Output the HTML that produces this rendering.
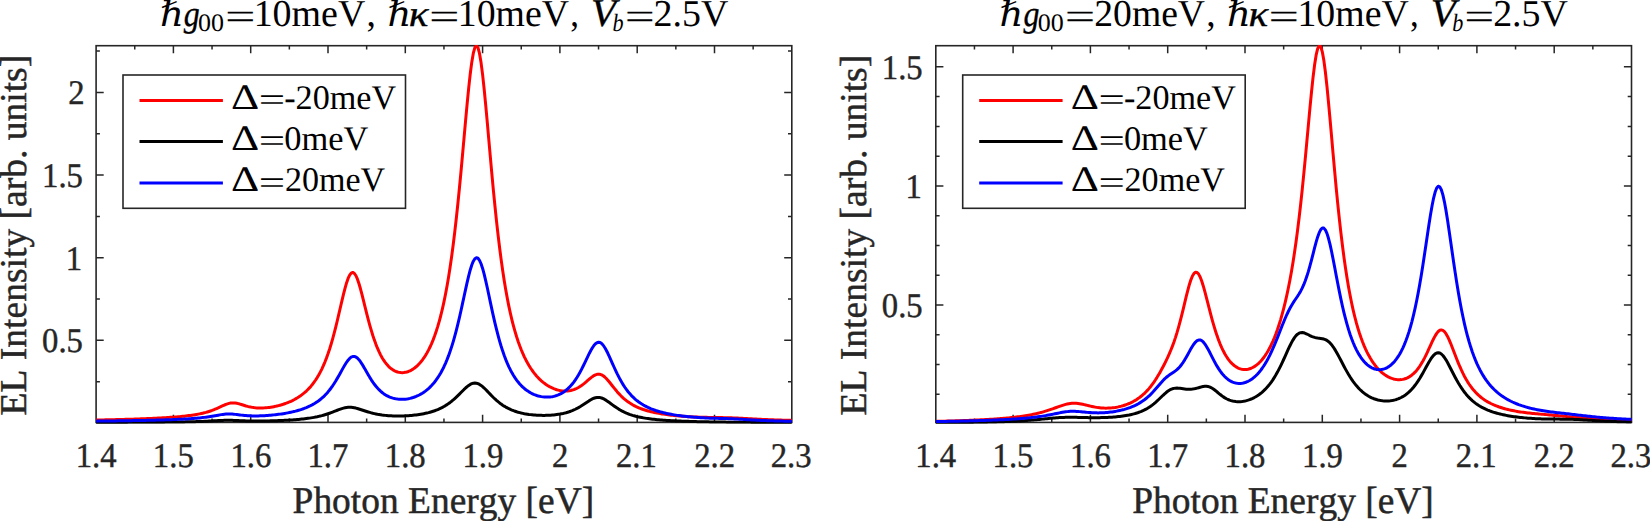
<!DOCTYPE html>
<html><head><meta charset="utf-8"><title>EL Intensity</title>
<style>html,body{margin:0;padding:0;background:#fff}svg{display:block;font-family:"Liberation Serif","DejaVu Serif",serif;font-kerning:none;text-rendering:geometricPrecision}text{white-space:pre}</style>
</head><body>
<svg width="1650" height="521" viewBox="0 0 1650 521">
<rect width="1650" height="521" fill="#fff"/>
<clipPath id="c0"><rect x="95.35" y="44.95" width="697.2" height="378.7"/></clipPath>
<path d="M134.75,422.4v-3.8M134.75,45.7v3.8M173.4,422.4v-7.6M173.4,45.7v7.6M212.05,422.4v-3.8M212.05,45.7v3.8M250.7,422.4v-7.6M250.7,45.7v7.6M289.35,422.4v-3.8M289.35,45.7v3.8M328,422.4v-7.6M328,45.7v7.6M366.65,422.4v-3.8M366.65,45.7v3.8M405.3,422.4v-7.6M405.3,45.7v7.6M443.95,422.4v-3.8M443.95,45.7v3.8M482.6,422.4v-7.6M482.6,45.7v7.6M521.25,422.4v-3.8M521.25,45.7v3.8M559.9,422.4v-7.6M559.9,45.7v7.6M598.55,422.4v-3.8M598.55,45.7v3.8M637.2,422.4v-7.6M637.2,45.7v7.6M675.85,422.4v-3.8M675.85,45.7v3.8M714.5,422.4v-7.6M714.5,45.7v7.6M753.15,422.4v-3.8M753.15,45.7v3.8M96.1,340.35h7.6M791.8,340.35h-7.6M96.1,257.7h7.6M791.8,257.7h-7.6M96.1,175.05h7.6M791.8,175.05h-7.6M96.1,92.4h7.6M791.8,92.4h-7.6M96.1,381.68h3.8M791.8,381.68h-3.8M96.1,299.02h3.8M791.8,299.02h-3.8M96.1,216.38h3.8M791.8,216.38h-3.8M96.1,133.72h3.8M791.8,133.72h-3.8M96.1,51.07h3.8M791.8,51.07h-3.8" stroke="#262626" stroke-width="1.5" fill="none"/>
<rect x="96.1" y="45.7" width="695.7" height="376.7" stroke="#262626" stroke-width="1.6" fill="none"/>
<g clip-path="url(#c0)" fill="none" stroke-width="3" stroke-linejoin="round">
<path d="M96.1,420.06 L97.65,420.03 L99.19,420 L100.74,419.97 L102.28,419.94 L103.83,419.9 L105.38,419.87 L106.92,419.84 L108.47,419.8 L110.01,419.77 L111.56,419.73 L113.11,419.69 L114.65,419.65 L116.2,419.62 L117.74,419.58 L119.29,419.54 L120.84,419.49 L122.38,419.45 L123.93,419.41 L125.47,419.37 L127.02,419.32 L128.57,419.27 L130.11,419.23 L131.66,419.18 L133.2,419.13 L134.75,419.08 L136.3,419.02 L137.84,418.97 L139.39,418.92 L140.93,418.86 L142.48,418.8 L144.03,418.74 L145.57,418.68 L147.12,418.62 L148.66,418.55 L150.21,418.48 L151.76,418.41 L153.3,418.34 L154.85,418.27 L156.39,418.19 L157.94,418.11 L159.49,418.03 L161.03,417.95 L162.58,417.86 L164.12,417.77 L165.67,417.67 L167.22,417.57 L168.76,417.47 L170.31,417.36 L171.85,417.25 L173.4,417.14 L174.95,417.02 L176.49,416.89 L178.04,416.76 L179.58,416.62 L181.13,416.47 L182.68,416.31 L184.22,416.15 L185.77,415.98 L187.31,415.8 L188.86,415.6 L190.41,415.4 L191.95,415.18 L193.5,414.95 L195.04,414.7 L196.59,414.44 L198.14,414.15 L199.68,413.85 L201.23,413.52 L202.77,413.17 L204.32,412.79 L205.87,412.39 L207.41,411.95 L208.96,411.47 L210.5,410.96 L212.05,410.42 L213.6,409.83 L215.14,409.21 L216.69,408.55 L218.23,407.86 L219.78,407.14 L221.33,406.42 L222.87,405.7 L224.42,405.01 L225.96,404.38 L227.51,403.82 L229.06,403.38 L230.6,403.06 L232.15,402.9 L233.69,402.88 L235.24,403.01 L236.79,403.27 L238.33,403.63 L239.88,404.06 L241.42,404.54 L242.97,405.03 L244.52,405.51 L246.06,405.97 L247.61,406.39 L249.15,406.76 L250.7,407.09 L252.25,407.36 L253.79,407.58 L255.34,407.76 L256.88,407.88 L258.43,407.96 L259.98,407.99 L261.52,407.99 L263.07,407.94 L264.61,407.86 L266.16,407.74 L267.71,407.59 L269.25,407.4 L270.8,407.18 L272.34,406.93 L273.89,406.65 L275.44,406.34 L276.98,405.99 L278.53,405.61 L280.07,405.2 L281.62,404.76 L283.17,404.28 L284.71,403.76 L286.26,403.21 L287.8,402.61 L289.35,401.97 L290.9,401.28 L292.44,400.55 L293.99,399.76 L295.53,398.92 L297.08,398.02 L298.63,397.05 L300.17,396.01 L301.72,394.89 L303.26,393.69 L304.81,392.4 L306.36,391.01 L307.9,389.51 L309.45,387.89 L310.99,386.14 L312.54,384.25 L314.09,382.2 L315.63,379.99 L317.18,377.58 L318.72,374.97 L320.27,372.14 L321.82,369.06 L323.36,365.71 L324.91,362.07 L326.45,358.13 L328,353.85 L329.55,349.22 L331.09,344.23 L332.64,338.88 L334.18,333.16 L335.73,327.11 L337.28,320.76 L338.82,314.19 L340.37,307.5 L341.91,300.84 L343.46,294.38 L345.01,288.33 L346.55,282.94 L348.1,278.46 L349.64,275.1 L351.19,273.05 L352.74,272.44 L354.28,273.27 L355.83,275.5 L357.37,278.97 L358.92,283.48 L360.47,288.78 L362.01,294.63 L363.56,300.79 L365.1,307.06 L366.65,313.27 L368.2,319.3 L369.74,325.04 L371.29,330.45 L372.83,335.47 L374.38,340.11 L375.93,344.36 L377.47,348.22 L379.02,351.71 L380.56,354.86 L382.11,357.68 L383.66,360.18 L385.2,362.41 L386.75,364.36 L388.29,366.07 L389.84,367.55 L391.39,368.82 L392.93,369.88 L394.48,370.76 L396.02,371.46 L397.57,371.99 L399.12,372.36 L400.66,372.58 L402.21,372.65 L403.75,372.57 L405.3,372.35 L406.85,371.99 L408.39,371.48 L409.94,370.84 L411.48,370.05 L413.03,369.11 L414.58,368.03 L416.12,366.79 L417.67,365.38 L419.21,363.8 L420.76,362.05 L422.31,360.1 L423.85,357.95 L425.4,355.58 L426.94,352.98 L428.49,350.13 L430.04,347.01 L431.58,343.59 L433.13,339.85 L434.67,335.76 L436.22,331.29 L437.77,326.41 L439.31,321.07 L440.86,315.24 L442.4,308.86 L443.95,301.89 L445.5,294.27 L447.04,285.95 L448.59,276.88 L450.13,266.98 L451.68,256.22 L453.23,244.53 L454.77,231.9 L456.32,218.29 L457.86,203.73 L459.41,188.26 L460.96,172.01 L462.5,155.13 L464.05,137.9 L465.59,120.68 L467.14,103.91 L468.69,88.14 L470.23,74.01 L471.78,62.14 L473.32,53.16 L474.87,47.57 L476.42,45.7 L477.96,47.7 L479.51,53.44 L481.05,62.58 L482.6,74.63 L484.15,88.97 L485.69,104.95 L487.24,121.96 L488.78,139.44 L490.33,156.93 L491.88,174.05 L493.42,190.56 L494.97,206.27 L496.51,221.07 L498.06,234.91 L499.61,247.77 L501.15,259.67 L502.7,270.64 L504.24,280.74 L505.79,290.02 L507.34,298.54 L508.88,306.35 L510.43,313.52 L511.97,320.1 L513.52,326.14 L515.07,331.68 L516.61,336.78 L518.16,341.47 L519.7,345.79 L521.25,349.76 L522.8,353.43 L524.34,356.81 L525.89,359.94 L527.43,362.83 L528.98,365.5 L530.53,367.97 L532.07,370.26 L533.62,372.38 L535.16,374.34 L536.71,376.15 L538.26,377.82 L539.8,379.37 L541.35,380.81 L542.89,382.12 L544.44,383.34 L545.99,384.45 L547.53,385.46 L549.08,386.39 L550.62,387.22 L552.17,387.97 L553.72,388.64 L555.26,389.22 L556.81,389.72 L558.35,390.15 L559.9,390.49 L561.45,390.74 L562.99,390.92 L564.54,391.01 L566.08,391.01 L567.63,390.92 L569.18,390.74 L570.72,390.46 L572.27,390.07 L573.81,389.58 L575.36,388.99 L576.91,388.28 L578.45,387.46 L580,386.52 L581.54,385.48 L583.09,384.33 L584.64,383.1 L586.18,381.8 L587.73,380.46 L589.27,379.12 L590.82,377.82 L592.37,376.63 L593.91,375.61 L595.46,374.81 L597,374.3 L598.55,374.12 L600.1,374.3 L601.64,374.86 L603.19,375.77 L604.73,377 L606.28,378.5 L607.83,380.2 L609.37,382.05 L610.92,383.99 L612.46,385.95 L614.01,387.91 L615.56,389.81 L617.1,391.65 L618.65,393.39 L620.19,395.04 L621.74,396.59 L623.29,398.03 L624.83,399.37 L626.38,400.62 L627.92,401.77 L629.47,402.84 L631.02,403.83 L632.56,404.74 L634.11,405.59 L635.65,406.37 L637.2,407.1 L638.75,407.77 L640.29,408.4 L641.84,408.98 L643.38,409.53 L644.93,410.03 L646.48,410.51 L648.02,410.95 L649.57,411.36 L651.11,411.75 L652.66,412.12 L654.21,412.46 L655.75,412.78 L657.3,413.09 L658.84,413.37 L660.39,413.64 L661.94,413.9 L663.48,414.14 L665.03,414.37 L666.57,414.58 L668.12,414.79 L669.67,414.98 L671.21,415.16 L672.76,415.34 L674.3,415.5 L675.85,415.66 L677.4,415.8 L678.94,415.94 L680.49,416.08 L682.03,416.2 L683.58,416.32 L685.13,416.43 L686.67,416.53 L688.22,416.63 L689.76,416.72 L691.31,416.8 L692.86,416.88 L694.4,416.96 L695.95,417.02 L697.49,417.09 L699.04,417.14 L700.59,417.2 L702.13,417.24 L703.68,417.29 L705.22,417.32 L706.77,417.36 L708.32,417.39 L709.86,417.42 L711.41,417.44 L712.95,417.47 L714.5,417.49 L716.05,417.51 L717.59,417.54 L719.14,417.56 L720.68,417.58 L722.23,417.61 L723.78,417.64 L725.32,417.68 L726.87,417.72 L728.41,417.76 L729.96,417.81 L731.51,417.86 L733.05,417.92 L734.6,417.99 L736.14,418.05 L737.69,418.12 L739.24,418.2 L740.78,418.28 L742.33,418.36 L743.87,418.44 L745.42,418.52 L746.97,418.6 L748.51,418.69 L750.06,418.77 L751.6,418.85 L753.15,418.93 L754.7,419.01 L756.24,419.09 L757.79,419.16 L759.33,419.24 L760.88,419.31 L762.43,419.38 L763.97,419.45 L765.52,419.52 L767.06,419.58 L768.61,419.65 L770.16,419.71 L771.7,419.77 L773.25,419.83 L774.79,419.88 L776.34,419.94 L777.89,419.99 L779.43,420.04 L780.98,420.09 L782.52,420.14 L784.07,420.18 L785.62,420.23 L787.16,420.27 L788.71,420.31 L790.25,420.36 L791.8,420.4" stroke="#ff0000"/>
<path d="M96.1,422.49 L97.65,422.49 L99.19,422.48 L100.74,422.48 L102.28,422.47 L103.83,422.47 L105.38,422.46 L106.92,422.46 L108.47,422.45 L110.01,422.45 L111.56,422.44 L113.11,422.44 L114.65,422.43 L116.2,422.42 L117.74,422.42 L119.29,422.41 L120.84,422.41 L122.38,422.4 L123.93,422.39 L125.47,422.39 L127.02,422.38 L128.57,422.37 L130.11,422.36 L131.66,422.36 L133.2,422.35 L134.75,422.34 L136.3,422.33 L137.84,422.32 L139.39,422.32 L140.93,422.31 L142.48,422.3 L144.03,422.29 L145.57,422.28 L147.12,422.27 L148.66,422.26 L150.21,422.25 L151.76,422.24 L153.3,422.23 L154.85,422.21 L156.39,422.2 L157.94,422.19 L159.49,422.18 L161.03,422.16 L162.58,422.15 L164.12,422.14 L165.67,422.12 L167.22,422.11 L168.76,422.09 L170.31,422.07 L171.85,422.05 L173.4,422.04 L174.95,422.02 L176.49,422 L178.04,421.97 L179.58,421.95 L181.13,421.93 L182.68,421.9 L184.22,421.88 L185.77,421.85 L187.31,421.82 L188.86,421.79 L190.41,421.75 L191.95,421.72 L193.5,421.68 L195.04,421.64 L196.59,421.6 L198.14,421.55 L199.68,421.5 L201.23,421.45 L202.77,421.39 L204.32,421.33 L205.87,421.26 L207.41,421.19 L208.96,421.12 L210.5,421.04 L212.05,420.96 L213.6,420.87 L215.14,420.78 L216.69,420.7 L218.23,420.61 L219.78,420.53 L221.33,420.45 L222.87,420.39 L224.42,420.34 L225.96,420.31 L227.51,420.3 L229.06,420.3 L230.6,420.33 L232.15,420.37 L233.69,420.42 L235.24,420.49 L236.79,420.56 L238.33,420.62 L239.88,420.69 L241.42,420.76 L242.97,420.82 L244.52,420.87 L246.06,420.91 L247.61,420.95 L249.15,420.98 L250.7,421.01 L252.25,421.03 L253.79,421.04 L255.34,421.04 L256.88,421.05 L258.43,421.04 L259.98,421.03 L261.52,421.02 L263.07,421 L264.61,420.98 L266.16,420.95 L267.71,420.92 L269.25,420.89 L270.8,420.85 L272.34,420.81 L273.89,420.77 L275.44,420.72 L276.98,420.67 L278.53,420.61 L280.07,420.55 L281.62,420.48 L283.17,420.41 L284.71,420.34 L286.26,420.26 L287.8,420.17 L289.35,420.08 L290.9,419.99 L292.44,419.88 L293.99,419.77 L295.53,419.65 L297.08,419.53 L298.63,419.39 L300.17,419.25 L301.72,419.09 L303.26,418.93 L304.81,418.75 L306.36,418.56 L307.9,418.35 L309.45,418.13 L310.99,417.89 L312.54,417.64 L314.09,417.36 L315.63,417.06 L317.18,416.75 L318.72,416.4 L320.27,416.03 L321.82,415.64 L323.36,415.21 L324.91,414.76 L326.45,414.28 L328,413.76 L329.55,413.22 L331.09,412.66 L332.64,412.07 L334.18,411.46 L335.73,410.85 L337.28,410.25 L338.82,409.66 L340.37,409.1 L341.91,408.58 L343.46,408.14 L345.01,407.77 L346.55,407.49 L348.1,407.33 L349.64,407.27 L351.19,407.32 L352.74,407.48 L354.28,407.74 L355.83,408.08 L357.37,408.49 L358.92,408.95 L360.47,409.45 L362.01,409.96 L363.56,410.48 L365.1,410.99 L366.65,411.49 L368.2,411.97 L369.74,412.42 L371.29,412.85 L372.83,413.25 L374.38,413.61 L375.93,413.95 L377.47,414.26 L379.02,414.53 L380.56,414.78 L382.11,415.01 L383.66,415.2 L385.2,415.37 L386.75,415.52 L388.29,415.65 L389.84,415.76 L391.39,415.85 L392.93,415.91 L394.48,415.96 L396.02,416 L397.57,416.01 L399.12,416.01 L400.66,415.99 L402.21,415.96 L403.75,415.91 L405.3,415.84 L406.85,415.76 L408.39,415.66 L409.94,415.55 L411.48,415.42 L413.03,415.27 L414.58,415.1 L416.12,414.91 L417.67,414.71 L419.21,414.48 L420.76,414.23 L422.31,413.96 L423.85,413.66 L425.4,413.34 L426.94,412.99 L428.49,412.61 L430.04,412.19 L431.58,411.74 L433.13,411.25 L434.67,410.73 L436.22,410.15 L437.77,409.54 L439.31,408.86 L440.86,408.14 L442.4,407.36 L443.95,406.51 L445.5,405.6 L447.04,404.62 L448.59,403.56 L450.13,402.43 L451.68,401.22 L453.23,399.93 L454.77,398.57 L456.32,397.14 L457.86,395.66 L459.41,394.12 L460.96,392.56 L462.5,391 L464.05,389.46 L465.59,388 L467.14,386.64 L468.69,385.44 L470.23,384.44 L471.78,383.69 L473.32,383.22 L474.87,383.05 L476.42,383.2 L477.96,383.65 L479.51,384.4 L481.05,385.4 L482.6,386.62 L484.15,388.01 L485.69,389.51 L487.24,391.1 L488.78,392.72 L490.33,394.34 L491.88,395.93 L493.42,397.48 L494.97,398.96 L496.51,400.36 L498.06,401.69 L499.61,402.93 L501.15,404.09 L502.7,405.17 L504.24,406.16 L505.79,407.08 L507.34,407.93 L508.88,408.71 L510.43,409.43 L511.97,410.09 L513.52,410.69 L515.07,411.24 L516.61,411.75 L518.16,412.21 L519.7,412.62 L521.25,413.01 L522.8,413.35 L524.34,413.67 L525.89,413.95 L527.43,414.2 L528.98,414.43 L530.53,414.62 L532.07,414.8 L533.62,414.95 L535.16,415.08 L536.71,415.18 L538.26,415.27 L539.8,415.33 L541.35,415.37 L542.89,415.39 L544.44,415.39 L545.99,415.37 L547.53,415.32 L549.08,415.26 L550.62,415.17 L552.17,415.06 L553.72,414.92 L555.26,414.75 L556.81,414.56 L558.35,414.34 L559.9,414.09 L561.45,413.8 L562.99,413.48 L564.54,413.11 L566.08,412.71 L567.63,412.26 L569.18,411.76 L570.72,411.22 L572.27,410.61 L573.81,409.95 L575.36,409.24 L576.91,408.46 L578.45,407.62 L580,406.72 L581.54,405.77 L583.09,404.77 L584.64,403.74 L586.18,402.69 L587.73,401.65 L589.27,400.64 L590.82,399.71 L592.37,398.89 L593.91,398.21 L595.46,397.72 L597,397.44 L598.55,397.39 L600.1,397.58 L601.64,398 L603.19,398.63 L604.73,399.44 L606.28,400.39 L607.83,401.44 L609.37,402.56 L610.92,403.7 L612.46,404.85 L614.01,405.98 L615.56,407.07 L617.1,408.11 L618.65,409.1 L620.19,410.02 L621.74,410.88 L623.29,411.68 L624.83,412.42 L626.38,413.1 L627.92,413.73 L629.47,414.31 L631.02,414.84 L632.56,415.34 L634.11,415.79 L635.65,416.21 L637.2,416.59 L638.75,416.95 L640.29,417.28 L641.84,417.58 L643.38,417.86 L644.93,418.12 L646.48,418.36 L648.02,418.59 L649.57,418.8 L651.11,418.99 L652.66,419.18 L654.21,419.35 L655.75,419.51 L657.3,419.66 L658.84,419.8 L660.39,419.93 L661.94,420.05 L663.48,420.17 L665.03,420.28 L666.57,420.38 L668.12,420.48 L669.67,420.57 L671.21,420.66 L672.76,420.74 L674.3,420.82 L675.85,420.89 L677.4,420.96 L678.94,421.03 L680.49,421.09 L682.03,421.16 L683.58,421.21 L685.13,421.27 L686.67,421.32 L688.22,421.37 L689.76,421.42 L691.31,421.47 L692.86,421.51 L694.4,421.55 L695.95,421.59 L697.49,421.63 L699.04,421.67 L700.59,421.7 L702.13,421.74 L703.68,421.77 L705.22,421.8 L706.77,421.83 L708.32,421.86 L709.86,421.89 L711.41,421.92 L712.95,421.94 L714.5,421.97 L716.05,421.99 L717.59,422.02 L719.14,422.04 L720.68,422.06 L722.23,422.08 L723.78,422.1 L725.32,422.12 L726.87,422.14 L728.41,422.16 L729.96,422.18 L731.51,422.2 L733.05,422.21 L734.6,422.23 L736.14,422.25 L737.69,422.26 L739.24,422.28 L740.78,422.29 L742.33,422.31 L743.87,422.32 L745.42,422.33 L746.97,422.35 L748.51,422.36 L750.06,422.37 L751.6,422.38 L753.15,422.4 L754.7,422.41 L756.24,422.42 L757.79,422.43 L759.33,422.44 L760.88,422.45 L762.43,422.46 L763.97,422.47 L765.52,422.48 L767.06,422.49 L768.61,422.5 L770.16,422.51 L771.7,422.51 L773.25,422.52 L774.79,422.53 L776.34,422.54 L777.89,422.55 L779.43,422.55 L780.98,422.56 L782.52,422.57 L784.07,422.58 L785.62,422.58 L787.16,422.59 L788.71,422.6 L790.25,422.6 L791.8,422.61" stroke="#000000"/>
<path d="M96.1,421.13 L97.65,421.12 L99.19,421.1 L100.74,421.08 L102.28,421.06 L103.83,421.05 L105.38,421.03 L106.92,421.01 L108.47,420.99 L110.01,420.97 L111.56,420.95 L113.11,420.93 L114.65,420.91 L116.2,420.89 L117.74,420.87 L119.29,420.84 L120.84,420.82 L122.38,420.8 L123.93,420.77 L125.47,420.75 L127.02,420.73 L128.57,420.7 L130.11,420.68 L131.66,420.65 L133.2,420.62 L134.75,420.59 L136.3,420.57 L137.84,420.54 L139.39,420.51 L140.93,420.48 L142.48,420.45 L144.03,420.41 L145.57,420.38 L147.12,420.35 L148.66,420.31 L150.21,420.28 L151.76,420.24 L153.3,420.2 L154.85,420.16 L156.39,420.12 L157.94,420.08 L159.49,420.04 L161.03,419.99 L162.58,419.95 L164.12,419.9 L165.67,419.85 L167.22,419.8 L168.76,419.74 L170.31,419.69 L171.85,419.63 L173.4,419.57 L174.95,419.51 L176.49,419.44 L178.04,419.37 L179.58,419.3 L181.13,419.23 L182.68,419.15 L184.22,419.06 L185.77,418.97 L187.31,418.88 L188.86,418.78 L190.41,418.68 L191.95,418.57 L193.5,418.45 L195.04,418.33 L196.59,418.19 L198.14,418.05 L199.68,417.9 L201.23,417.74 L202.77,417.56 L204.32,417.38 L205.87,417.18 L207.41,416.96 L208.96,416.74 L210.5,416.5 L212.05,416.24 L213.6,415.98 L215.14,415.71 L216.69,415.43 L218.23,415.15 L219.78,414.88 L221.33,414.63 L222.87,414.4 L224.42,414.21 L225.96,414.07 L227.51,413.99 L229.06,413.96 L230.6,413.99 L232.15,414.08 L233.69,414.21 L235.24,414.37 L236.79,414.56 L238.33,414.75 L239.88,414.95 L241.42,415.13 L242.97,415.3 L244.52,415.46 L246.06,415.59 L247.61,415.7 L249.15,415.78 L250.7,415.85 L252.25,415.9 L253.79,415.92 L255.34,415.93 L256.88,415.92 L258.43,415.89 L259.98,415.85 L261.52,415.79 L263.07,415.72 L264.61,415.64 L266.16,415.54 L267.71,415.43 L269.25,415.31 L270.8,415.18 L272.34,415.03 L273.89,414.88 L275.44,414.71 L276.98,414.52 L278.53,414.33 L280.07,414.12 L281.62,413.9 L283.17,413.66 L284.71,413.41 L286.26,413.14 L287.8,412.86 L289.35,412.55 L290.9,412.23 L292.44,411.89 L293.99,411.52 L295.53,411.14 L297.08,410.72 L298.63,410.28 L300.17,409.81 L301.72,409.31 L303.26,408.78 L304.81,408.2 L306.36,407.59 L307.9,406.93 L309.45,406.23 L310.99,405.47 L312.54,404.65 L314.09,403.77 L315.63,402.82 L317.18,401.8 L318.72,400.7 L320.27,399.51 L321.82,398.22 L323.36,396.82 L324.91,395.31 L326.45,393.68 L328,391.92 L329.55,390.02 L331.09,387.98 L332.64,385.8 L334.18,383.46 L335.73,380.99 L337.28,378.39 L338.82,375.69 L340.37,372.92 L341.91,370.12 L343.46,367.36 L345.01,364.72 L346.55,362.28 L348.1,360.15 L349.64,358.42 L351.19,357.18 L352.74,356.5 L354.28,356.43 L355.83,356.96 L357.37,358.06 L358.92,359.67 L360.47,361.71 L362.01,364.06 L363.56,366.63 L365.1,369.32 L366.65,372.05 L368.2,374.74 L369.74,377.33 L371.29,379.81 L372.83,382.13 L374.38,384.28 L375.93,386.26 L377.47,388.07 L379.02,389.71 L380.56,391.18 L382.11,392.5 L383.66,393.67 L385.2,394.71 L386.75,395.62 L388.29,396.42 L389.84,397.1 L391.39,397.68 L392.93,398.16 L394.48,398.56 L396.02,398.87 L397.57,399.1 L399.12,399.25 L400.66,399.33 L402.21,399.34 L403.75,399.28 L405.3,399.16 L406.85,398.97 L408.39,398.71 L409.94,398.38 L411.48,397.99 L413.03,397.54 L414.58,397.01 L416.12,396.41 L417.67,395.74 L419.21,394.99 L420.76,394.16 L422.31,393.24 L423.85,392.23 L425.4,391.12 L426.94,389.91 L428.49,388.58 L430.04,387.14 L431.58,385.56 L433.13,383.84 L434.67,381.97 L436.22,379.94 L437.77,377.72 L439.31,375.31 L440.86,372.68 L442.4,369.82 L443.95,366.71 L445.5,363.33 L447.04,359.65 L448.59,355.65 L450.13,351.32 L451.68,346.63 L453.23,341.57 L454.77,336.13 L456.32,330.3 L457.86,324.1 L459.41,317.56 L460.96,310.71 L462.5,303.64 L464.05,296.46 L465.59,289.31 L467.14,282.36 L468.69,275.83 L470.23,269.96 L471.78,265 L473.32,261.17 L474.87,258.69 L476.42,257.69 L477.96,258.23 L479.51,260.29 L481.05,263.75 L482.6,268.45 L484.15,274.14 L485.69,280.59 L487.24,287.54 L488.78,294.77 L490.33,302.08 L491.88,309.32 L493.42,316.34 L494.97,323.08 L496.51,329.47 L498.06,335.48 L499.61,341.09 L501.15,346.3 L502.7,351.11 L504.24,355.55 L505.79,359.64 L507.34,363.38 L508.88,366.82 L510.43,369.96 L511.97,372.84 L513.52,375.47 L515.07,377.88 L516.61,380.07 L518.16,382.08 L519.7,383.91 L521.25,385.57 L522.8,387.09 L524.34,388.46 L525.89,389.71 L527.43,390.84 L528.98,391.86 L530.53,392.77 L532.07,393.58 L533.62,394.3 L535.16,394.94 L536.71,395.48 L538.26,395.95 L539.8,396.33 L541.35,396.64 L542.89,396.87 L544.44,397.03 L545.99,397.11 L547.53,397.11 L549.08,397.04 L550.62,396.89 L552.17,396.66 L553.72,396.35 L555.26,395.94 L556.81,395.45 L558.35,394.86 L559.9,394.17 L561.45,393.37 L562.99,392.45 L564.54,391.42 L566.08,390.24 L567.63,388.93 L569.18,387.46 L570.72,385.84 L572.27,384.04 L573.81,382.06 L575.36,379.9 L576.91,377.54 L578.45,375 L580,372.26 L581.54,369.35 L583.09,366.28 L584.64,363.1 L586.18,359.85 L587.73,356.61 L589.27,353.44 L590.82,350.47 L592.37,347.79 L593.91,345.53 L595.46,343.8 L597,342.69 L598.55,342.27 L600.1,342.57 L601.64,343.58 L603.19,345.25 L604.73,347.49 L606.28,350.21 L607.83,353.28 L609.37,356.6 L610.92,360.04 L612.46,363.54 L614.01,367 L615.56,370.37 L617.1,373.62 L618.65,376.7 L620.19,379.61 L621.74,382.34 L623.29,384.89 L624.83,387.26 L626.38,389.46 L627.92,391.49 L629.47,393.37 L631.02,395.1 L632.56,396.7 L634.11,398.19 L635.65,399.55 L637.2,400.82 L638.75,401.99 L640.29,403.07 L641.84,404.07 L643.38,405.01 L644.93,405.87 L646.48,406.68 L648.02,407.43 L649.57,408.12 L651.11,408.78 L652.66,409.38 L654.21,409.95 L655.75,410.49 L657.3,410.99 L658.84,411.46 L660.39,411.9 L661.94,412.31 L663.48,412.7 L665.03,413.07 L666.57,413.42 L668.12,413.74 L669.67,414.05 L671.21,414.34 L672.76,414.62 L674.3,414.88 L675.85,415.13 L677.4,415.36 L678.94,415.58 L680.49,415.79 L682.03,415.99 L683.58,416.18 L685.13,416.36 L686.67,416.53 L688.22,416.69 L689.76,416.84 L691.31,416.98 L692.86,417.11 L694.4,417.24 L695.95,417.36 L697.49,417.47 L699.04,417.58 L700.59,417.67 L702.13,417.77 L703.68,417.85 L705.22,417.93 L706.77,418 L708.32,418.07 L709.86,418.13 L711.41,418.18 L712.95,418.23 L714.5,418.28 L716.05,418.32 L717.59,418.35 L719.14,418.39 L720.68,418.42 L722.23,418.46 L723.78,418.5 L725.32,418.54 L726.87,418.58 L728.41,418.63 L729.96,418.69 L731.51,418.75 L733.05,418.82 L734.6,418.9 L736.14,418.99 L737.69,419.08 L739.24,419.17 L740.78,419.27 L742.33,419.37 L743.87,419.47 L745.42,419.57 L746.97,419.67 L748.51,419.77 L750.06,419.86 L751.6,419.95 L753.15,420.03 L754.7,420.12 L756.24,420.19 L757.79,420.27 L759.33,420.34 L760.88,420.41 L762.43,420.47 L763.97,420.54 L765.52,420.6 L767.06,420.65 L768.61,420.71 L770.16,420.76 L771.7,420.81 L773.25,420.85 L774.79,420.9 L776.34,420.94 L777.89,420.99 L779.43,421.03 L780.98,421.06 L782.52,421.1 L784.07,421.14 L785.62,421.17 L787.16,421.21 L788.71,421.24 L790.25,421.27 L791.8,421.3" stroke="#0000ff"/>
</g>
<g fill="#262626" stroke="#262626" stroke-width="0.45">
<text transform="translate(75.63,466.6) scale(0.9450,1)" font-size="34.6">1.4</text>
<text transform="translate(152.87,466.6) scale(0.9450,1)" font-size="34.6">1.5</text>
<text transform="translate(230.41,466.6) scale(0.9450,1)" font-size="34.6">1.6</text>
<text transform="translate(307.5,466.6) scale(0.9450,1)" font-size="34.6">1.7</text>
<text transform="translate(384.85,466.6) scale(0.9450,1)" font-size="34.6">1.8</text>
<text transform="translate(462.4,466.6) scale(0.9450,1)" font-size="34.6">1.9</text>
<text transform="translate(551.91,466.6) scale(0.9450,1)" font-size="34.6">2</text>
<text transform="translate(615.93,466.6) scale(0.9450,1)" font-size="34.6">2.1</text>
<text transform="translate(694.15,466.6) scale(0.9450,1)" font-size="34.6">2.2</text>
<text transform="translate(770.68,466.6) scale(0.9450,1)" font-size="34.6">2.3</text>
<text transform="translate(42.11,352.25) scale(0.9450,1)" font-size="34.6">0.5</text>
<text transform="translate(65.72,269.6) scale(0.9450,1)" font-size="34.6">1</text>
<text transform="translate(42.11,186.95) scale(0.9450,1)" font-size="34.6">1.5</text>
<text transform="translate(68.36,104.3) scale(0.9450,1)" font-size="34.6">2</text>
<text transform="translate(292.57,512.65) scale(0.9907,1)" font-size="37.8">Photon Energy [eV]</text>
<text transform="translate(26.2,415.38) rotate(-90) scale(0.9927,1)" font-size="37.8">EL Intensity [arb. units]</text>
</g>
<rect x="123" y="75" width="282.5" height="133.3" fill="#fff" stroke="#262626" stroke-width="1.6"/>
<g class="legend-row">
<path d="M139.5,100.5H222.9" stroke="#ff0000" stroke-width="3"/>
<text><tspan x="231.03" y="108.5" font-size="35.88" textLength="28.22" lengthAdjust="spacingAndGlyphs">Δ</tspan><tspan x="258.87" y="111" font-size="34.5" textLength="26.42" lengthAdjust="spacingAndGlyphs">=</tspan><tspan x="284.23" y="108.5" font-size="34.5" textLength="111.95" lengthAdjust="spacingAndGlyphs">-20meV</tspan></text>
</g>
<g class="legend-row">
<path d="M139.5,141.6H222.9" stroke="#000000" stroke-width="3"/>
<text><tspan x="231.03" y="149.9" font-size="35.88" textLength="28.22" lengthAdjust="spacingAndGlyphs">Δ</tspan><tspan x="258.87" y="152.4" font-size="34.5" textLength="26.42" lengthAdjust="spacingAndGlyphs">=</tspan><tspan x="284.19" y="149.9" font-size="34.5" textLength="84.10" lengthAdjust="spacingAndGlyphs">0meV</tspan></text>
</g>
<g class="legend-row">
<path d="M139.5,182.9H222.9" stroke="#0000ff" stroke-width="3"/>
<text><tspan x="231.03" y="191.4" font-size="35.88" textLength="28.22" lengthAdjust="spacingAndGlyphs">Δ</tspan><tspan x="258.87" y="193.9" font-size="34.5" textLength="26.42" lengthAdjust="spacingAndGlyphs">=</tspan><tspan x="284.9" y="191.4" font-size="34.5" textLength="100.28" lengthAdjust="spacingAndGlyphs">20meV</tspan></text>
</g>
<text class="title"><tspan x="159.91" y="26.2" font-size="34.96" textLength="23.90" lengthAdjust="spacingAndGlyphs" font-style="italic">ℏ</tspan><tspan x="183.78" y="26.2" font-size="36.48" textLength="15.95" lengthAdjust="spacingAndGlyphs" font-style="italic" stroke="#000" stroke-width="0.35">g</tspan><tspan x="198.11" y="31.2" font-size="25.2" textLength="25.98" lengthAdjust="spacingAndGlyphs">00</tspan><tspan x="225.1" y="29.4" font-size="38" textLength="30.54" lengthAdjust="spacingAndGlyphs">=</tspan><tspan x="253.67" y="25.9" font-size="38" textLength="111.66" lengthAdjust="spacingAndGlyphs">10meV</tspan><tspan x="366.47" y="25.9" font-size="38" textLength="18.80" lengthAdjust="spacingAndGlyphs">, </tspan><tspan x="387.41" y="26.2" font-size="34.96" textLength="23.90" lengthAdjust="spacingAndGlyphs" font-style="italic">ℏ</tspan><tspan x="408.89" y="26.2" font-size="36.48" textLength="19.77" lengthAdjust="spacingAndGlyphs" font-style="italic" stroke="#000" stroke-width="0.35">κ</tspan><tspan x="428.9" y="29.4" font-size="38" textLength="30.54" lengthAdjust="spacingAndGlyphs">=</tspan><tspan x="457.78" y="25.9" font-size="38" textLength="111.25" lengthAdjust="spacingAndGlyphs">10meV</tspan><tspan x="570.37" y="25.9" font-size="38" textLength="17.46" lengthAdjust="spacingAndGlyphs">, </tspan><tspan x="591.07" y="26.3" font-size="39.52" textLength="24.91" lengthAdjust="spacingAndGlyphs" font-style="italic" stroke="#000" stroke-width="0.35">V</tspan><tspan x="612.58" y="31.4" font-size="25" textLength="11.10" lengthAdjust="spacingAndGlyphs" font-style="italic">b</tspan><tspan x="624.65" y="29.4" font-size="38" textLength="30.06" lengthAdjust="spacingAndGlyphs">=</tspan><tspan x="653.43" y="25.9" font-size="38" textLength="74.90" lengthAdjust="spacingAndGlyphs">2.5V</tspan></text>
<clipPath id="c839"><rect x="935.05" y="44.95" width="697.2" height="378.7"/></clipPath>
<path d="M974.45,422.4v-3.8M974.45,45.7v3.8M1013.1,422.4v-7.6M1013.1,45.7v7.6M1051.75,422.4v-3.8M1051.75,45.7v3.8M1090.4,422.4v-7.6M1090.4,45.7v7.6M1129.05,422.4v-3.8M1129.05,45.7v3.8M1167.7,422.4v-7.6M1167.7,45.7v7.6M1206.35,422.4v-3.8M1206.35,45.7v3.8M1245,422.4v-7.6M1245,45.7v7.6M1283.65,422.4v-3.8M1283.65,45.7v3.8M1322.3,422.4v-7.6M1322.3,45.7v7.6M1360.95,422.4v-3.8M1360.95,45.7v3.8M1399.6,422.4v-7.6M1399.6,45.7v7.6M1438.25,422.4v-3.8M1438.25,45.7v3.8M1476.9,422.4v-7.6M1476.9,45.7v7.6M1515.55,422.4v-3.8M1515.55,45.7v3.8M1554.2,422.4v-7.6M1554.2,45.7v7.6M1592.85,422.4v-3.8M1592.85,45.7v3.8M935.8,304.95h7.6M1631.5,304.95h-7.6M935.8,185.9h7.6M1631.5,185.9h-7.6M935.8,66.85h7.6M1631.5,66.85h-7.6M935.8,394.24h3.8M1631.5,394.24h-3.8M935.8,364.48h3.8M1631.5,364.48h-3.8M935.8,334.71h3.8M1631.5,334.71h-3.8M935.8,275.19h3.8M1631.5,275.19h-3.8M935.8,245.43h3.8M1631.5,245.43h-3.8M935.8,215.66h3.8M1631.5,215.66h-3.8M935.8,156.14h3.8M1631.5,156.14h-3.8M935.8,126.38h3.8M1631.5,126.38h-3.8M935.8,96.61h3.8M1631.5,96.61h-3.8" stroke="#262626" stroke-width="1.5" fill="none"/>
<rect x="935.8" y="45.7" width="695.7" height="376.7" stroke="#262626" stroke-width="1.6" fill="none"/>
<g clip-path="url(#c839)" fill="none" stroke-width="3" stroke-linejoin="round">
<path d="M935.8,421.39 L937.35,421.36 L938.89,421.32 L940.44,421.28 L941.98,421.24 L943.53,421.2 L945.08,421.16 L946.62,421.12 L948.17,421.07 L949.71,421.03 L951.26,420.98 L952.81,420.94 L954.35,420.89 L955.9,420.84 L957.44,420.79 L958.99,420.74 L960.54,420.69 L962.08,420.63 L963.63,420.58 L965.17,420.52 L966.72,420.46 L968.27,420.4 L969.81,420.34 L971.36,420.27 L972.9,420.21 L974.45,420.14 L976,420.07 L977.54,420 L979.09,419.92 L980.63,419.85 L982.18,419.77 L983.73,419.68 L985.27,419.6 L986.82,419.51 L988.36,419.42 L989.91,419.33 L991.46,419.23 L993,419.13 L994.55,419.03 L996.09,418.92 L997.64,418.81 L999.19,418.69 L1000.73,418.57 L1002.28,418.44 L1003.82,418.31 L1005.37,418.18 L1006.92,418.04 L1008.46,417.89 L1010.01,417.73 L1011.55,417.57 L1013.1,417.41 L1014.65,417.23 L1016.19,417.05 L1017.74,416.85 L1019.28,416.65 L1020.83,416.44 L1022.38,416.22 L1023.92,415.99 L1025.47,415.75 L1027.01,415.49 L1028.56,415.22 L1030.11,414.94 L1031.65,414.64 L1033.2,414.33 L1034.74,414 L1036.29,413.65 L1037.84,413.29 L1039.38,412.9 L1040.93,412.5 L1042.47,412.08 L1044.02,411.64 L1045.57,411.17 L1047.11,410.69 L1048.66,410.19 L1050.2,409.67 L1051.75,409.14 L1053.3,408.59 L1054.84,408.03 L1056.39,407.47 L1057.93,406.91 L1059.48,406.35 L1061.03,405.81 L1062.57,405.3 L1064.12,404.82 L1065.66,404.39 L1067.21,404.01 L1068.76,403.7 L1070.3,403.46 L1071.85,403.3 L1073.39,403.22 L1074.94,403.23 L1076.49,403.31 L1078.03,403.47 L1079.58,403.7 L1081.12,403.98 L1082.67,404.3 L1084.22,404.66 L1085.76,405.03 L1087.31,405.41 L1088.85,405.79 L1090.4,406.16 L1091.95,406.51 L1093.49,406.83 L1095.04,407.12 L1096.58,407.38 L1098.13,407.61 L1099.68,407.79 L1101.22,407.94 L1102.77,408.04 L1104.31,408.11 L1105.86,408.13 L1107.41,408.12 L1108.95,408.06 L1110.5,407.96 L1112.04,407.83 L1113.59,407.65 L1115.14,407.44 L1116.68,407.18 L1118.23,406.88 L1119.77,406.54 L1121.32,406.15 L1122.87,405.72 L1124.41,405.24 L1125.96,404.72 L1127.5,404.14 L1129.05,403.51 L1130.6,402.82 L1132.14,402.07 L1133.69,401.25 L1135.23,400.37 L1136.78,399.41 L1138.33,398.37 L1139.87,397.25 L1141.42,396.04 L1142.96,394.73 L1144.51,393.31 L1146.06,391.79 L1147.6,390.14 L1149.15,388.38 L1150.69,386.49 L1152.24,384.46 L1153.79,382.3 L1155.33,380.01 L1156.88,377.59 L1158.42,375.05 L1159.97,372.38 L1161.52,369.6 L1163.06,366.72 L1164.61,363.72 L1166.15,360.6 L1167.7,357.35 L1169.25,353.92 L1170.79,350.28 L1172.34,346.38 L1173.88,342.18 L1175.43,337.62 L1176.98,332.69 L1178.52,327.35 L1180.07,321.63 L1181.61,315.58 L1183.16,309.27 L1184.71,302.83 L1186.25,296.44 L1187.8,290.31 L1189.34,284.68 L1190.89,279.83 L1192.44,276 L1193.98,273.41 L1195.53,272.2 L1197.07,272.44 L1198.62,274.08 L1200.17,277.02 L1201.71,281.05 L1203.26,285.94 L1204.8,291.44 L1206.35,297.33 L1207.9,303.39 L1209.44,309.44 L1210.99,315.36 L1212.53,321.04 L1214.08,326.41 L1215.63,331.44 L1217.17,336.1 L1218.72,340.39 L1220.26,344.3 L1221.81,347.86 L1223.36,351.07 L1224.9,353.96 L1226.45,356.54 L1227.99,358.84 L1229.54,360.87 L1231.09,362.64 L1232.63,364.19 L1234.18,365.51 L1235.72,366.63 L1237.27,367.55 L1238.82,368.29 L1240.36,368.85 L1241.91,369.23 L1243.45,369.46 L1245,369.52 L1246.55,369.43 L1248.09,369.18 L1249.64,368.78 L1251.18,368.22 L1252.73,367.51 L1254.28,366.64 L1255.82,365.6 L1257.37,364.4 L1258.91,363.02 L1260.46,361.47 L1262.01,359.72 L1263.55,357.78 L1265.1,355.63 L1266.64,353.27 L1268.19,350.67 L1269.74,347.83 L1271.28,344.73 L1272.83,341.37 L1274.37,337.71 L1275.92,333.74 L1277.47,329.45 L1279.01,324.82 L1280.56,319.82 L1282.1,314.42 L1283.65,308.6 L1285.2,302.34 L1286.74,295.58 L1288.29,288.29 L1289.83,280.42 L1291.38,271.92 L1292.93,262.72 L1294.47,252.77 L1296.02,241.99 L1297.56,230.34 L1299.11,217.77 L1300.66,204.25 L1302.2,189.79 L1303.75,174.46 L1305.29,158.37 L1306.84,141.74 L1308.39,124.88 L1309.93,108.21 L1311.48,92.26 L1313.02,77.66 L1314.57,65.08 L1316.12,55.21 L1317.66,48.62 L1319.21,45.77 L1320.75,46.85 L1322.3,51.83 L1323.85,60.39 L1325.39,72.05 L1326.94,86.17 L1328.48,102.08 L1330.03,119.1 L1331.58,136.65 L1333.12,154.22 L1334.67,171.44 L1336.21,188.03 L1337.76,203.79 L1339.31,218.6 L1340.85,232.43 L1342.4,245.26 L1343.94,257.1 L1345.49,267.99 L1347.04,278 L1348.58,287.17 L1350.13,295.57 L1351.67,303.26 L1353.22,310.31 L1354.77,316.75 L1356.31,322.66 L1357.86,328.07 L1359.4,333.03 L1360.95,337.58 L1362.5,341.75 L1364.04,345.58 L1365.59,349.11 L1367.13,352.34 L1368.68,355.32 L1370.23,358.05 L1371.77,360.56 L1373.32,362.86 L1374.86,364.98 L1376.41,366.91 L1377.96,368.68 L1379.5,370.3 L1381.05,371.77 L1382.59,373.1 L1384.14,374.29 L1385.69,375.36 L1387.23,376.31 L1388.78,377.13 L1390.32,377.84 L1391.87,378.44 L1393.42,378.93 L1394.96,379.3 L1396.51,379.55 L1398.05,379.69 L1399.6,379.71 L1401.15,379.61 L1402.69,379.38 L1404.24,379.02 L1405.78,378.53 L1407.33,377.88 L1408.88,377.08 L1410.42,376.12 L1411.97,374.98 L1413.51,373.65 L1415.06,372.13 L1416.61,370.4 L1418.15,368.45 L1419.7,366.27 L1421.24,363.86 L1422.79,361.23 L1424.34,358.36 L1425.88,355.3 L1427.43,352.07 L1428.97,348.72 L1430.52,345.31 L1432.07,341.96 L1433.61,338.76 L1435.16,335.86 L1436.7,333.39 L1438.25,331.5 L1439.8,330.31 L1441.34,329.92 L1442.89,330.36 L1444.43,331.63 L1445.98,333.68 L1447.53,336.39 L1449.07,339.65 L1450.62,343.29 L1452.16,347.19 L1453.71,351.22 L1455.26,355.26 L1456.8,359.23 L1458.35,363.07 L1459.89,366.73 L1461.44,370.19 L1462.99,373.43 L1464.53,376.45 L1466.08,379.26 L1467.62,381.85 L1469.17,384.24 L1470.72,386.44 L1472.26,388.47 L1473.81,390.34 L1475.35,392.06 L1476.9,393.65 L1478.45,395.11 L1479.99,396.46 L1481.54,397.71 L1483.08,398.87 L1484.63,399.94 L1486.18,400.93 L1487.72,401.85 L1489.27,402.7 L1490.81,403.5 L1492.36,404.24 L1493.91,404.94 L1495.45,405.58 L1497,406.19 L1498.54,406.76 L1500.09,407.29 L1501.64,407.79 L1503.18,408.26 L1504.73,408.69 L1506.27,409.11 L1507.82,409.5 L1509.37,409.86 L1510.91,410.21 L1512.46,410.53 L1514,410.84 L1515.55,411.13 L1517.1,411.4 L1518.64,411.65 L1520.19,411.9 L1521.73,412.12 L1523.28,412.34 L1524.83,412.54 L1526.37,412.74 L1527.92,412.92 L1529.46,413.09 L1531.01,413.26 L1532.56,413.41 L1534.1,413.56 L1535.65,413.71 L1537.19,413.85 L1538.74,413.98 L1540.29,414.12 L1541.83,414.25 L1543.38,414.38 L1544.92,414.5 L1546.47,414.63 L1548.02,414.77 L1549.56,414.9 L1551.11,415.03 L1552.65,415.17 L1554.2,415.31 L1555.75,415.46 L1557.29,415.6 L1558.84,415.75 L1560.38,415.9 L1561.93,416.05 L1563.48,416.2 L1565.02,416.35 L1566.57,416.49 L1568.11,416.64 L1569.66,416.79 L1571.21,416.93 L1572.75,417.07 L1574.3,417.21 L1575.84,417.34 L1577.39,417.47 L1578.94,417.6 L1580.48,417.72 L1582.03,417.84 L1583.57,417.96 L1585.12,418.07 L1586.67,418.18 L1588.21,418.28 L1589.76,418.38 L1591.3,418.48 L1592.85,418.57 L1594.4,418.67 L1595.94,418.75 L1597.49,418.84 L1599.03,418.92 L1600.58,419 L1602.13,419.08 L1603.67,419.15 L1605.22,419.23 L1606.76,419.3 L1608.31,419.36 L1609.86,419.43 L1611.4,419.49 L1612.95,419.56 L1614.49,419.62 L1616.04,419.68 L1617.59,419.73 L1619.13,419.79 L1620.68,419.84 L1622.22,419.9 L1623.77,419.95 L1625.32,420 L1626.86,420.05 L1628.41,420.09 L1629.95,420.14 L1631.5,420.19" stroke="#ff0000"/>
<path d="M935.8,422.83 L937.35,422.81 L938.89,422.8 L940.44,422.79 L941.98,422.77 L943.53,422.76 L945.08,422.74 L946.62,422.73 L948.17,422.71 L949.71,422.7 L951.26,422.68 L952.81,422.66 L954.35,422.65 L955.9,422.63 L957.44,422.61 L958.99,422.59 L960.54,422.57 L962.08,422.55 L963.63,422.53 L965.17,422.51 L966.72,422.49 L968.27,422.47 L969.81,422.44 L971.36,422.42 L972.9,422.4 L974.45,422.37 L976,422.35 L977.54,422.32 L979.09,422.29 L980.63,422.26 L982.18,422.23 L983.73,422.2 L985.27,422.17 L986.82,422.13 L988.36,422.1 L989.91,422.06 L991.46,422.03 L993,421.99 L994.55,421.95 L996.09,421.9 L997.64,421.86 L999.19,421.81 L1000.73,421.76 L1002.28,421.71 L1003.82,421.66 L1005.37,421.61 L1006.92,421.55 L1008.46,421.49 L1010.01,421.42 L1011.55,421.36 L1013.1,421.29 L1014.65,421.21 L1016.19,421.14 L1017.74,421.05 L1019.28,420.97 L1020.83,420.88 L1022.38,420.79 L1023.92,420.69 L1025.47,420.58 L1027.01,420.48 L1028.56,420.36 L1030.11,420.25 L1031.65,420.12 L1033.2,419.99 L1034.74,419.86 L1036.29,419.72 L1037.84,419.58 L1039.38,419.43 L1040.93,419.28 L1042.47,419.13 L1044.02,418.97 L1045.57,418.81 L1047.11,418.66 L1048.66,418.5 L1050.2,418.35 L1051.75,418.2 L1053.3,418.06 L1054.84,417.93 L1056.39,417.81 L1057.93,417.7 L1059.48,417.6 L1061.03,417.51 L1062.57,417.44 L1064.12,417.38 L1065.66,417.34 L1067.21,417.31 L1068.76,417.29 L1070.3,417.29 L1071.85,417.3 L1073.39,417.31 L1074.94,417.34 L1076.49,417.36 L1078.03,417.4 L1079.58,417.43 L1081.12,417.47 L1082.67,417.51 L1084.22,417.55 L1085.76,417.58 L1087.31,417.61 L1088.85,417.64 L1090.4,417.66 L1091.95,417.67 L1093.49,417.68 L1095.04,417.68 L1096.58,417.68 L1098.13,417.66 L1099.68,417.64 L1101.22,417.61 L1102.77,417.57 L1104.31,417.52 L1105.86,417.47 L1107.41,417.4 L1108.95,417.32 L1110.5,417.23 L1112.04,417.13 L1113.59,417.02 L1115.14,416.89 L1116.68,416.75 L1118.23,416.59 L1119.77,416.42 L1121.32,416.23 L1122.87,416.03 L1124.41,415.8 L1125.96,415.55 L1127.5,415.28 L1129.05,414.99 L1130.6,414.66 L1132.14,414.31 L1133.69,413.92 L1135.23,413.49 L1136.78,413.02 L1138.33,412.51 L1139.87,411.95 L1141.42,411.34 L1142.96,410.66 L1144.51,409.92 L1146.06,409.12 L1147.6,408.23 L1149.15,407.27 L1150.69,406.22 L1152.24,405.09 L1153.79,403.87 L1155.33,402.57 L1156.88,401.19 L1158.42,399.75 L1159.97,398.27 L1161.52,396.77 L1163.06,395.28 L1164.61,393.85 L1166.15,392.51 L1167.7,391.31 L1169.25,390.27 L1170.79,389.43 L1172.34,388.8 L1173.88,388.37 L1175.43,388.14 L1176.98,388.08 L1178.52,388.15 L1180.07,388.31 L1181.61,388.52 L1183.16,388.76 L1184.71,388.97 L1186.25,389.15 L1187.8,389.26 L1189.34,389.29 L1190.89,389.24 L1192.44,389.08 L1193.98,388.84 L1195.53,388.52 L1197.07,388.12 L1198.62,387.69 L1200.17,387.24 L1201.71,386.83 L1203.26,386.5 L1204.8,386.29 L1206.35,386.26 L1207.9,386.45 L1209.44,386.88 L1210.99,387.55 L1212.53,388.44 L1214.08,389.52 L1215.63,390.72 L1217.17,392 L1218.72,393.3 L1220.26,394.56 L1221.81,395.76 L1223.36,396.87 L1224.9,397.87 L1226.45,398.74 L1227.99,399.5 L1229.54,400.13 L1231.09,400.65 L1232.63,401.06 L1234.18,401.36 L1235.72,401.57 L1237.27,401.68 L1238.82,401.7 L1240.36,401.64 L1241.91,401.49 L1243.45,401.27 L1245,400.97 L1246.55,400.59 L1248.09,400.14 L1249.64,399.61 L1251.18,399.01 L1252.73,398.32 L1254.28,397.55 L1255.82,396.69 L1257.37,395.74 L1258.91,394.7 L1260.46,393.55 L1262.01,392.3 L1263.55,390.93 L1265.1,389.43 L1266.64,387.81 L1268.19,386.04 L1269.74,384.13 L1271.28,382.06 L1272.83,379.83 L1274.37,377.42 L1275.92,374.84 L1277.47,372.09 L1279.01,369.16 L1280.56,366.08 L1282.1,362.85 L1283.65,359.5 L1285.2,356.08 L1286.74,352.64 L1288.29,349.24 L1289.83,345.96 L1291.38,342.88 L1292.93,340.09 L1294.47,337.67 L1296.02,335.68 L1297.56,334.18 L1299.11,333.17 L1300.66,332.64 L1302.2,332.54 L1303.75,332.79 L1305.29,333.31 L1306.84,334.01 L1308.39,334.78 L1309.93,335.56 L1311.48,336.28 L1313.02,336.89 L1314.57,337.39 L1316.12,337.76 L1317.66,338.03 L1319.21,338.24 L1320.75,338.44 L1322.3,338.69 L1323.85,339.07 L1325.39,339.63 L1326.94,340.45 L1328.48,341.55 L1330.03,342.97 L1331.58,344.72 L1333.12,346.79 L1334.67,349.13 L1336.21,351.71 L1337.76,354.47 L1339.31,357.36 L1340.85,360.31 L1342.4,363.28 L1343.94,366.22 L1345.49,369.09 L1347.04,371.86 L1348.58,374.5 L1350.13,377.01 L1351.67,379.38 L1353.22,381.6 L1354.77,383.66 L1356.31,385.58 L1357.86,387.35 L1359.4,388.99 L1360.95,390.49 L1362.5,391.86 L1364.04,393.12 L1365.59,394.26 L1367.13,395.3 L1368.68,396.23 L1370.23,397.07 L1371.77,397.81 L1373.32,398.48 L1374.86,399.05 L1376.41,399.55 L1377.96,399.98 L1379.5,400.33 L1381.05,400.6 L1382.59,400.81 L1384.14,400.95 L1385.69,401.01 L1387.23,401.01 L1388.78,400.94 L1390.32,400.79 L1391.87,400.57 L1393.42,400.27 L1394.96,399.9 L1396.51,399.44 L1398.05,398.89 L1399.6,398.25 L1401.15,397.51 L1402.69,396.67 L1404.24,395.72 L1405.78,394.65 L1407.33,393.45 L1408.88,392.12 L1410.42,390.64 L1411.97,389.02 L1413.51,387.23 L1415.06,385.29 L1416.61,383.18 L1418.15,380.9 L1419.7,378.47 L1421.24,375.89 L1422.79,373.18 L1424.34,370.39 L1425.88,367.56 L1427.43,364.74 L1428.97,362.01 L1430.52,359.47 L1432.07,357.2 L1433.61,355.31 L1435.16,353.88 L1436.7,353 L1438.25,352.72 L1439.8,353.05 L1441.34,353.99 L1442.89,355.49 L1444.43,357.48 L1445.98,359.87 L1447.53,362.55 L1449.07,365.44 L1450.62,368.45 L1452.16,371.49 L1453.71,374.51 L1455.26,377.45 L1456.8,380.28 L1458.35,382.98 L1459.89,385.53 L1461.44,387.92 L1462.99,390.16 L1464.53,392.24 L1466.08,394.18 L1467.62,395.97 L1469.17,397.63 L1470.72,399.16 L1472.26,400.58 L1473.81,401.89 L1475.35,403.1 L1476.9,404.22 L1478.45,405.26 L1479.99,406.22 L1481.54,407.11 L1483.08,407.94 L1484.63,408.7 L1486.18,409.42 L1487.72,410.08 L1489.27,410.7 L1490.81,411.28 L1492.36,411.82 L1493.91,412.33 L1495.45,412.8 L1497,413.24 L1498.54,413.66 L1500.09,414.05 L1501.64,414.41 L1503.18,414.75 L1504.73,415.08 L1506.27,415.38 L1507.82,415.66 L1509.37,415.93 L1510.91,416.19 L1512.46,416.42 L1514,416.65 L1515.55,416.86 L1517.1,417.06 L1518.64,417.24 L1520.19,417.42 L1521.73,417.59 L1523.28,417.74 L1524.83,417.88 L1526.37,418.02 L1527.92,418.15 L1529.46,418.26 L1531.01,418.37 L1532.56,418.47 L1534.1,418.57 L1535.65,418.65 L1537.19,418.73 L1538.74,418.79 L1540.29,418.86 L1541.83,418.91 L1543.38,418.96 L1544.92,419 L1546.47,419.03 L1548.02,419.06 L1549.56,419.08 L1551.11,419.09 L1552.65,419.11 L1554.2,419.11 L1555.75,419.12 L1557.29,419.12 L1558.84,419.12 L1560.38,419.13 L1561.93,419.13 L1563.48,419.14 L1565.02,419.16 L1566.57,419.18 L1568.11,419.2 L1569.66,419.24 L1571.21,419.28 L1572.75,419.33 L1574.3,419.39 L1575.84,419.46 L1577.39,419.53 L1578.94,419.61 L1580.48,419.7 L1582.03,419.79 L1583.57,419.88 L1585.12,419.98 L1586.67,420.07 L1588.21,420.17 L1589.76,420.27 L1591.3,420.36 L1592.85,420.46 L1594.4,420.55 L1595.94,420.64 L1597.49,420.73 L1599.03,420.81 L1600.58,420.9 L1602.13,420.98 L1603.67,421.05 L1605.22,421.13 L1606.76,421.2 L1608.31,421.27 L1609.86,421.33 L1611.4,421.4 L1612.95,421.46 L1614.49,421.52 L1616.04,421.57 L1617.59,421.63 L1619.13,421.68 L1620.68,421.73 L1622.22,421.78 L1623.77,421.82 L1625.32,421.87 L1626.86,421.91 L1628.41,421.95 L1629.95,421.99 L1631.5,422.03" stroke="#000000"/>
<path d="M935.8,421.58 L937.35,421.55 L938.89,421.53 L940.44,421.5 L941.98,421.47 L943.53,421.44 L945.08,421.42 L946.62,421.39 L948.17,421.36 L949.71,421.33 L951.26,421.3 L952.81,421.27 L954.35,421.23 L955.9,421.2 L957.44,421.17 L958.99,421.13 L960.54,421.1 L962.08,421.06 L963.63,421.03 L965.17,420.99 L966.72,420.95 L968.27,420.91 L969.81,420.87 L971.36,420.83 L972.9,420.79 L974.45,420.75 L976,420.7 L977.54,420.66 L979.09,420.61 L980.63,420.56 L982.18,420.51 L983.73,420.46 L985.27,420.41 L986.82,420.35 L988.36,420.3 L989.91,420.24 L991.46,420.18 L993,420.12 L994.55,420.06 L996.09,420 L997.64,419.93 L999.19,419.86 L1000.73,419.79 L1002.28,419.72 L1003.82,419.64 L1005.37,419.56 L1006.92,419.48 L1008.46,419.39 L1010.01,419.3 L1011.55,419.21 L1013.1,419.11 L1014.65,419.01 L1016.19,418.91 L1017.74,418.8 L1019.28,418.69 L1020.83,418.57 L1022.38,418.44 L1023.92,418.31 L1025.47,418.18 L1027.01,418.03 L1028.56,417.88 L1030.11,417.72 L1031.65,417.56 L1033.2,417.38 L1034.74,417.2 L1036.29,417 L1037.84,416.8 L1039.38,416.59 L1040.93,416.36 L1042.47,416.12 L1044.02,415.87 L1045.57,415.61 L1047.11,415.34 L1048.66,415.06 L1050.2,414.76 L1051.75,414.46 L1053.3,414.15 L1054.84,413.83 L1056.39,413.51 L1057.93,413.19 L1059.48,412.88 L1061.03,412.58 L1062.57,412.3 L1064.12,412.04 L1065.66,411.81 L1067.21,411.62 L1068.76,411.47 L1070.3,411.36 L1071.85,411.31 L1073.39,411.29 L1074.94,411.32 L1076.49,411.39 L1078.03,411.49 L1079.58,411.62 L1081.12,411.76 L1082.67,411.92 L1084.22,412.07 L1085.76,412.23 L1087.31,412.37 L1088.85,412.5 L1090.4,412.62 L1091.95,412.71 L1093.49,412.79 L1095.04,412.84 L1096.58,412.87 L1098.13,412.88 L1099.68,412.86 L1101.22,412.82 L1102.77,412.75 L1104.31,412.67 L1105.86,412.56 L1107.41,412.42 L1108.95,412.27 L1110.5,412.09 L1112.04,411.89 L1113.59,411.66 L1115.14,411.41 L1116.68,411.14 L1118.23,410.84 L1119.77,410.51 L1121.32,410.15 L1122.87,409.76 L1124.41,409.35 L1125.96,408.9 L1127.5,408.41 L1129.05,407.88 L1130.6,407.32 L1132.14,406.71 L1133.69,406.05 L1135.23,405.34 L1136.78,404.57 L1138.33,403.74 L1139.87,402.85 L1141.42,401.88 L1142.96,400.84 L1144.51,399.72 L1146.06,398.51 L1147.6,397.21 L1149.15,395.82 L1150.69,394.33 L1152.24,392.75 L1153.79,391.09 L1155.33,389.35 L1156.88,387.56 L1158.42,385.74 L1159.97,383.93 L1161.52,382.16 L1163.06,380.48 L1164.61,378.92 L1166.15,377.5 L1167.7,376.23 L1169.25,375.09 L1170.79,374.05 L1172.34,373.05 L1173.88,372.02 L1175.43,370.9 L1176.98,369.63 L1178.52,368.17 L1180.07,366.46 L1181.61,364.5 L1183.16,362.29 L1184.71,359.85 L1186.25,357.21 L1187.8,354.44 L1189.34,351.61 L1190.89,348.84 L1192.44,346.23 L1193.98,343.93 L1195.53,342.05 L1197.07,340.71 L1198.62,340.01 L1200.17,339.99 L1201.71,340.66 L1203.26,341.98 L1204.8,343.87 L1206.35,346.22 L1207.9,348.91 L1209.44,351.82 L1210.99,354.84 L1212.53,357.88 L1214.08,360.85 L1215.63,363.7 L1217.17,366.38 L1218.72,368.87 L1220.26,371.16 L1221.81,373.23 L1223.36,375.09 L1224.9,376.73 L1226.45,378.18 L1227.99,379.43 L1229.54,380.49 L1231.09,381.38 L1232.63,382.1 L1234.18,382.65 L1235.72,383.06 L1237.27,383.31 L1238.82,383.43 L1240.36,383.41 L1241.91,383.25 L1243.45,382.96 L1245,382.53 L1246.55,381.98 L1248.09,381.29 L1249.64,380.47 L1251.18,379.51 L1252.73,378.41 L1254.28,377.16 L1255.82,375.76 L1257.37,374.2 L1258.91,372.48 L1260.46,370.59 L1262.01,368.52 L1263.55,366.27 L1265.1,363.83 L1266.64,361.2 L1268.19,358.37 L1269.74,355.34 L1271.28,352.12 L1272.83,348.72 L1274.37,345.14 L1275.92,341.42 L1277.47,337.58 L1279.01,333.67 L1280.56,329.73 L1282.1,325.81 L1283.65,321.97 L1285.2,318.27 L1286.74,314.77 L1288.29,311.49 L1289.83,308.48 L1291.38,305.71 L1292.93,303.17 L1294.47,300.8 L1296.02,298.51 L1297.56,296.21 L1299.11,293.79 L1300.66,291.14 L1302.2,288.15 L1303.75,284.73 L1305.29,280.81 L1306.84,276.36 L1308.39,271.38 L1309.93,265.92 L1311.48,260.07 L1313.02,254.01 L1314.57,247.94 L1316.12,242.15 L1317.66,236.94 L1319.21,232.65 L1320.75,229.59 L1322.3,228.02 L1323.85,228.11 L1325.39,229.9 L1326.94,233.35 L1328.48,238.26 L1330.03,244.41 L1331.58,251.49 L1333.12,259.2 L1334.67,267.26 L1336.21,275.44 L1337.76,283.53 L1339.31,291.37 L1340.85,298.87 L1342.4,305.96 L1343.94,312.59 L1345.49,318.74 L1347.04,324.43 L1348.58,329.65 L1350.13,334.43 L1351.67,338.79 L1353.22,342.76 L1354.77,346.35 L1356.31,349.61 L1357.86,352.54 L1359.4,355.19 L1360.95,357.55 L1362.5,359.66 L1364.04,361.53 L1365.59,363.18 L1367.13,364.62 L1368.68,365.86 L1370.23,366.92 L1371.77,367.79 L1373.32,368.49 L1374.86,369.03 L1376.41,369.4 L1377.96,369.62 L1379.5,369.67 L1381.05,369.57 L1382.59,369.31 L1384.14,368.89 L1385.69,368.3 L1387.23,367.54 L1388.78,366.6 L1390.32,365.48 L1391.87,364.17 L1393.42,362.65 L1394.96,360.91 L1396.51,358.93 L1398.05,356.71 L1399.6,354.21 L1401.15,351.42 L1402.69,348.31 L1404.24,344.86 L1405.78,341.04 L1407.33,336.81 L1408.88,332.14 L1410.42,327.01 L1411.97,321.36 L1413.51,315.17 L1415.06,308.42 L1416.61,301.06 L1418.15,293.1 L1419.7,284.53 L1421.24,275.38 L1422.79,265.7 L1424.34,255.59 L1425.88,245.2 L1427.43,234.72 L1428.97,224.41 L1430.52,214.61 L1432.07,205.68 L1433.61,198.02 L1435.16,192.02 L1436.7,188.01 L1438.25,186.25 L1439.8,186.84 L1441.34,189.77 L1442.89,194.87 L1444.43,201.85 L1445.98,210.37 L1447.53,220.02 L1449.07,230.41 L1450.62,241.19 L1452.16,252.05 L1453.71,262.77 L1455.26,273.15 L1456.8,283.07 L1458.35,292.44 L1459.89,301.24 L1461.44,309.44 L1462.99,317.05 L1464.53,324.08 L1466.08,330.56 L1467.62,336.53 L1469.17,342.03 L1470.72,347.08 L1472.26,351.72 L1473.81,355.99 L1475.35,359.92 L1476.9,363.54 L1478.45,366.88 L1479.99,369.95 L1481.54,372.8 L1483.08,375.43 L1484.63,377.86 L1486.18,380.12 L1487.72,382.22 L1489.27,384.17 L1490.81,385.98 L1492.36,387.67 L1493.91,389.25 L1495.45,390.72 L1497,392.1 L1498.54,393.39 L1500.09,394.6 L1501.64,395.73 L1503.18,396.8 L1504.73,397.8 L1506.27,398.74 L1507.82,399.63 L1509.37,400.46 L1510.91,401.25 L1512.46,402 L1514,402.7 L1515.55,403.36 L1517.1,403.99 L1518.64,404.59 L1520.19,405.15 L1521.73,405.69 L1523.28,406.19 L1524.83,406.67 L1526.37,407.12 L1527.92,407.56 L1529.46,407.96 L1531.01,408.35 L1532.56,408.72 L1534.1,409.07 L1535.65,409.4 L1537.19,409.71 L1538.74,410.01 L1540.29,410.29 L1541.83,410.56 L1543.38,410.81 L1544.92,411.05 L1546.47,411.29 L1548.02,411.5 L1549.56,411.71 L1551.11,411.92 L1552.65,412.11 L1554.2,412.3 L1555.75,412.48 L1557.29,412.66 L1558.84,412.83 L1560.38,413 L1561.93,413.17 L1563.48,413.34 L1565.02,413.51 L1566.57,413.69 L1568.11,413.86 L1569.66,414.04 L1571.21,414.21 L1572.75,414.39 L1574.3,414.57 L1575.84,414.76 L1577.39,414.94 L1578.94,415.12 L1580.48,415.3 L1582.03,415.48 L1583.57,415.66 L1585.12,415.84 L1586.67,416.01 L1588.21,416.19 L1589.76,416.35 L1591.3,416.52 L1592.85,416.68 L1594.4,416.83 L1595.94,416.98 L1597.49,417.13 L1599.03,417.27 L1600.58,417.41 L1602.13,417.54 L1603.67,417.67 L1605.22,417.79 L1606.76,417.91 L1608.31,418.03 L1609.86,418.14 L1611.4,418.25 L1612.95,418.36 L1614.49,418.46 L1616.04,418.56 L1617.59,418.65 L1619.13,418.75 L1620.68,418.84 L1622.22,418.93 L1623.77,419.01 L1625.32,419.09 L1626.86,419.17 L1628.41,419.25 L1629.95,419.33 L1631.5,419.4" stroke="#0000ff"/>
</g>
<g fill="#262626" stroke="#262626" stroke-width="0.45">
<text transform="translate(915.33,466.6) scale(0.9450,1)" font-size="34.6">1.4</text>
<text transform="translate(992.57,466.6) scale(0.9450,1)" font-size="34.6">1.5</text>
<text transform="translate(1070.11,466.6) scale(0.9450,1)" font-size="34.6">1.6</text>
<text transform="translate(1147.2,466.6) scale(0.9450,1)" font-size="34.6">1.7</text>
<text transform="translate(1224.55,466.6) scale(0.9450,1)" font-size="34.6">1.8</text>
<text transform="translate(1302.1,466.6) scale(0.9450,1)" font-size="34.6">1.9</text>
<text transform="translate(1391.61,466.6) scale(0.9450,1)" font-size="34.6">2</text>
<text transform="translate(1455.63,466.6) scale(0.9450,1)" font-size="34.6">2.1</text>
<text transform="translate(1533.85,466.6) scale(0.9450,1)" font-size="34.6">2.2</text>
<text transform="translate(1610.38,466.6) scale(0.9450,1)" font-size="34.6">2.3</text>
<text transform="translate(881.81,316.85) scale(0.9450,1)" font-size="34.6">0.5</text>
<text transform="translate(905.42,197.8) scale(0.9450,1)" font-size="34.6">1</text>
<text transform="translate(881.81,78.75) scale(0.9450,1)" font-size="34.6">1.5</text>
<text transform="translate(1132.27,512.65) scale(0.9907,1)" font-size="37.8">Photon Energy [eV]</text>
<text transform="translate(865.9,415.38) rotate(-90) scale(0.9927,1)" font-size="37.8">EL Intensity [arb. units]</text>
</g>
<rect x="962.7" y="75" width="282.5" height="133.3" fill="#fff" stroke="#262626" stroke-width="1.6"/>
<g class="legend-row">
<path d="M979.2,100.5H1062.6" stroke="#ff0000" stroke-width="3"/>
<text><tspan x="1070.73" y="108.5" font-size="35.88" textLength="28.22" lengthAdjust="spacingAndGlyphs">Δ</tspan><tspan x="1098.57" y="111" font-size="34.5" textLength="26.42" lengthAdjust="spacingAndGlyphs">=</tspan><tspan x="1123.93" y="108.5" font-size="34.5" textLength="111.95" lengthAdjust="spacingAndGlyphs">-20meV</tspan></text>
</g>
<g class="legend-row">
<path d="M979.2,141.6H1062.6" stroke="#000000" stroke-width="3"/>
<text><tspan x="1070.73" y="149.9" font-size="35.88" textLength="28.22" lengthAdjust="spacingAndGlyphs">Δ</tspan><tspan x="1098.57" y="152.4" font-size="34.5" textLength="26.42" lengthAdjust="spacingAndGlyphs">=</tspan><tspan x="1123.89" y="149.9" font-size="34.5" textLength="84.10" lengthAdjust="spacingAndGlyphs">0meV</tspan></text>
</g>
<g class="legend-row">
<path d="M979.2,182.9H1062.6" stroke="#0000ff" stroke-width="3"/>
<text><tspan x="1070.73" y="191.4" font-size="35.88" textLength="28.22" lengthAdjust="spacingAndGlyphs">Δ</tspan><tspan x="1098.57" y="193.9" font-size="34.5" textLength="26.42" lengthAdjust="spacingAndGlyphs">=</tspan><tspan x="1124.6" y="191.4" font-size="34.5" textLength="100.28" lengthAdjust="spacingAndGlyphs">20meV</tspan></text>
</g>
<text class="title"><tspan x="999.61" y="26.2" font-size="34.96" textLength="23.90" lengthAdjust="spacingAndGlyphs" font-style="italic">ℏ</tspan><tspan x="1023.48" y="26.2" font-size="36.48" textLength="15.95" lengthAdjust="spacingAndGlyphs" font-style="italic" stroke="#000" stroke-width="0.35">g</tspan><tspan x="1037.81" y="31.2" font-size="25.2" textLength="25.98" lengthAdjust="spacingAndGlyphs">00</tspan><tspan x="1064.8" y="29.4" font-size="38" textLength="30.54" lengthAdjust="spacingAndGlyphs">=</tspan><tspan x="1094.25" y="25.9" font-size="38" textLength="110.78" lengthAdjust="spacingAndGlyphs">20meV</tspan><tspan x="1206.17" y="25.9" font-size="38" textLength="18.80" lengthAdjust="spacingAndGlyphs">, </tspan><tspan x="1227.11" y="26.2" font-size="34.96" textLength="23.90" lengthAdjust="spacingAndGlyphs" font-style="italic">ℏ</tspan><tspan x="1248.59" y="26.2" font-size="36.48" textLength="19.77" lengthAdjust="spacingAndGlyphs" font-style="italic" stroke="#000" stroke-width="0.35">κ</tspan><tspan x="1268.6" y="29.4" font-size="38" textLength="30.54" lengthAdjust="spacingAndGlyphs">=</tspan><tspan x="1297.48" y="25.9" font-size="38" textLength="111.25" lengthAdjust="spacingAndGlyphs">10meV</tspan><tspan x="1410.07" y="25.9" font-size="38" textLength="17.46" lengthAdjust="spacingAndGlyphs">, </tspan><tspan x="1430.77" y="26.3" font-size="39.52" textLength="24.91" lengthAdjust="spacingAndGlyphs" font-style="italic" stroke="#000" stroke-width="0.35">V</tspan><tspan x="1452.28" y="31.4" font-size="25" textLength="11.10" lengthAdjust="spacingAndGlyphs" font-style="italic">b</tspan><tspan x="1464.35" y="29.4" font-size="38" textLength="30.06" lengthAdjust="spacingAndGlyphs">=</tspan><tspan x="1493.13" y="25.9" font-size="38" textLength="74.90" lengthAdjust="spacingAndGlyphs">2.5V</tspan></text>
</svg>
</body></html>
